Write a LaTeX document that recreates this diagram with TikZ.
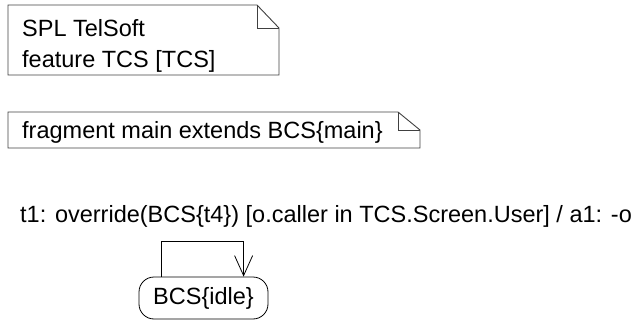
\documentclass[tikz,border=0pt]{standalone}
\usepackage{fontspec}
\setmainfont{Liberation Sans}
\usetikzlibrary{positioning,calc,arrows.meta}
\tikzset{
  notebox/.style={draw=black!75, line width=0.9pt},
  notetext/.style={font=\fontsize{23.5}{28}\selectfont, inner sep=0pt, anchor=base west},
  statebox/.style={draw, line width=0.8pt, rounded corners=15pt, minimum width=129pt, minimum height=42pt, inner sep=0pt, font=\fontsize{23.5}{28}\selectfont},
  trans/.style={line width=0.8pt, -{Straight Barb[length=20pt, width=18pt, line width=0.8pt]}}
}
\begin{document}
\begin{tikzpicture}[x=1pt,y=-1pt]
  \useasboundingbox (0,0) rectangle (633,324);
  % first note
  \draw[notebox] (8,5) -- (257,5) -- (279,28) -- (279,75) -- (8,75) -- cycle;
  \draw[notebox] (257,5) -- (257,28) -- (279,28);
  \node[notetext] (spl) at (22,36) {SPL TelSoft};
  \node[notetext] (feat) at (22,67) {feature TCS [TCS]};
  % second note
  \draw[notebox] (8,112) -- (398,112) -- (420,130) -- (420,148) -- (8,148) -- cycle;
  \draw[notebox] (398,112) -- (398,130) -- (420,130);
  \node[notetext] (frag) at (22,138) {fragment main extends BCS\{main\}};
  % transition label
  \node[notetext] (t1) at (20,222) {t1: override(BCS\{t4\}) [o.caller in TCS.Screen.User] / a1: -o};
  % state with self loop
  \node[statebox] (idle) at (203.5,298) {BCS\{idle\}};
  \coordinate (lp) at ($(idle.north west)+(23,0)$);
  \coordinate (rp) at ($(idle.north west)+(105,0)$);
  \draw[trans] (lp) -- ++(0,-35) -| (rp);
\end{tikzpicture}
\end{document}
